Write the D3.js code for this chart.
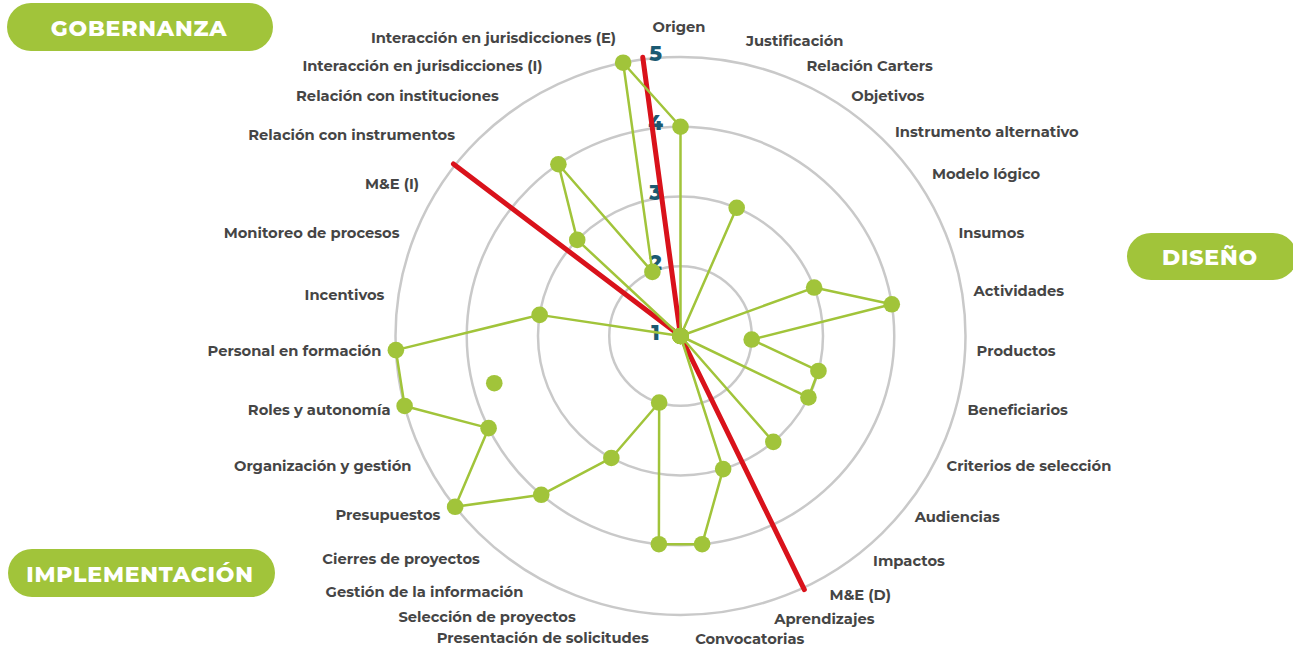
<!DOCTYPE html>
<html>
<head>
<meta charset="utf-8">
<script src="https://cdn.jsdelivr.net/npm/d3@7"></script>
<style>
  html, body { margin: 0; padding: 0; background: #ffffff; }
  svg { display: block; }
</style>
</head>
<body>
<svg id="chart" width="1293" height="649"></svg>
<script>
// ---------- data ----------
const axes = [
  "Origen", "Justificación", "Relación Carters", "Objetivos", "Instrumento alternativo",
  "Modelo lógico", "Insumos", "Actividades", "Productos", "Beneficiarios",
  "Criterios de selección", "Audiencias", "Impactos", "M&E (D)", "Aprendizajes",
  "Convocatorias", "Presentación de solicitudes", "Selección de proyectos",
  "Gestión de la información", "Cierres de proyectos", "Presupuestos",
  "Organización y gestión", "Roles y autonomía", "Personal en formación", "Incentivos",
  "Monitoreo de procesos", "M&E (I)", "Relación con instrumentos",
  "Relación con instituciones", "Interacción en jurisdicciones (I)",
  "Interacción en jurisdicciones (E)"
];
const values = [4, 1, 3, 1, 1, 1, 3, 4, 2, 3, 3, 1, 3, 1, 3, 4, 4, 2, 3, 4, 5, 4, 5, 5, 3, 1, 1, 3, 4, 2, 5];
const extraPointAxis = [22];
const extraPointValue = [3.7];
const levels = [1, 2, 3, 4, 5];
const levelLabels = ["1", "2", "3", "4", "5"];
const dividerPositions = [30.35, 13.3, 26.5];   // between axes, in axis units
const sections = ["GOBERNANZA", "DISEÑO", "IMPLEMENTACIÓN"];

// ---------- layout ----------
const svg = d3.select("#chart");
const cx = 680.5, cy = 336;
const green = "#a1c43a", red = "#d9121b", grid = "#c9c9c9";
const rX = d3.scaleLinear().domain([1, 5]).range([0, 285]);
const rY = d3.scaleLinear().domain([1, 5]).range([0, 279]);
const angle = d3.scaleLinear().domain([0, axes.length]).range([0, 2 * Math.PI]);
const pos = (i, v) => [cx + rX(v) * Math.sin(angle(i)), cy - rY(v) * Math.cos(angle(i))];

// grid ellipses
svg.append("g").selectAll("ellipse").data(levels.filter(l => l > 1)).join("ellipse")
  .attr("cx", cx).attr("cy", cy)
  .attr("rx", d => rX(d)).attr("ry", d => rY(d))
  .attr("fill", "none").attr("stroke", grid).attr("stroke-width", 2.5);

// level labels
svg.append("g").selectAll("text").data(levels).join("text")
  .attr("x", cx - 25)
  .attr("y", d => cy - rY(d) - 4)
  .attr("text-anchor", "middle").attr("dominant-baseline", "central")
  .attr("font-family", "Montserrat, 'Open Sans', sans-serif").attr("font-weight", 800)
  .attr("font-size", 21).attr("fill", "#1b5a72")
  .text((d, i) => levelLabels[i]);

// dividers
svg.append("g").selectAll("line").data(dividerPositions).join("line")
  .attr("x1", cx).attr("y1", cy)
  .attr("x2", d => pos(d, 5.03)[0]).attr("y2", d => pos(d, 5.03)[1])
  .attr("stroke", red).attr("stroke-width", 5).attr("stroke-linecap", "round");

// data line
const pts = values.map((v, i) => pos(i, v));
svg.append("path")
  .attr("d", d3.line().curve(d3.curveLinearClosed)(pts))
  .attr("fill", "none").attr("stroke", green).attr("stroke-width", 2.5)
  .attr("stroke-linejoin", "round");

// dots
svg.append("g").selectAll("circle").data(values).join("circle")
  .attr("cx", (v, i) => pos(i, v)[0]).attr("cy", (v, i) => pos(i, v)[1])
  .attr("r", 8.3).attr("fill", green);
svg.append("g").selectAll("circle").data(extraPointAxis).join("circle")
  .attr("cx", (a, i) => pos(a, extraPointValue[i])[0])
  .attr("cy", (a, i) => pos(a, extraPointValue[i])[1])
  .attr("r", 8.3).attr("fill", green);

// axis labels (placed on a ring outside the grid, with small hand nudges as in the original)
const LX = 298, LY = 296;
const labelNudge = {
  0: [0, -5], 1: [7, 0], 2: [10, 3], 3: [2, 3], 5: [0, -5], 13: [6, 0], 14: [6, -2],
  15: [-14, 1], 17: [-14, -4], 18: [-11, -3], 19: [-5, -2], 20: [-3, -2], 24: [0, 4],
  26: [-7, 5], 27: [-8, 3], 28: [-10, 3], 29: [-19, 3], 30: [-3, -3]
};
const labelPos = i => {
  const a = angle(i), c = Math.cos(a), s = Math.sin(a);
  const ly = LY + 8 * Math.pow(Math.abs(c), 20);
  const n = labelNudge[i] || [0, 0];
  return [cx - 1.5 + LX * s + n[0], cy - ly * c + n[1]];
};
svg.append("g").selectAll("text").data(axes).join("text")
  .attr("x", (d, i) => labelPos(i)[0])
  .attr("y", (d, i) => labelPos(i)[1])
  .attr("text-anchor", (d, i) => {
    const s = Math.sin(angle(i));
    return Math.abs(s) < 0.01 ? "middle" : (s > 0 ? "start" : "end");
  })
  .attr("dominant-baseline", "central")
  .attr("font-family", "Montserrat, 'Open Sans', sans-serif").attr("font-weight", 700)
  .attr("font-size", 14.7).attr("fill", "#454545")
  .text(d => d);

// section pills
const pillBoxes = [[7, 3, 266, 48], [1127, 233, 170, 47], [8, 549, 267, 48]];
const pills = svg.append("g").selectAll("g").data(sections).join("g");
pills.append("rect")
  .attr("x", (d, i) => pillBoxes[i][0]).attr("y", (d, i) => pillBoxes[i][1])
  .attr("width", (d, i) => pillBoxes[i][2]).attr("height", (d, i) => pillBoxes[i][3])
  .attr("rx", 24).attr("fill", green);
pills.append("text")
  .attr("x", (d, i) => i === 1 ? 1210 : pillBoxes[i][0] + 132)
  .attr("y", (d, i) => pillBoxes[i][1] + pillBoxes[i][3] / 2 + 1)
  .attr("text-anchor", "middle").attr("dominant-baseline", "central")
  .attr("font-family", "Montserrat, 'Open Sans', sans-serif").attr("font-weight", 800)
  .attr("font-size", 22).attr("letter-spacing", 0.8).attr("fill", "#ffffff")
  .text(d => d);
</script>
</body>
</html>
